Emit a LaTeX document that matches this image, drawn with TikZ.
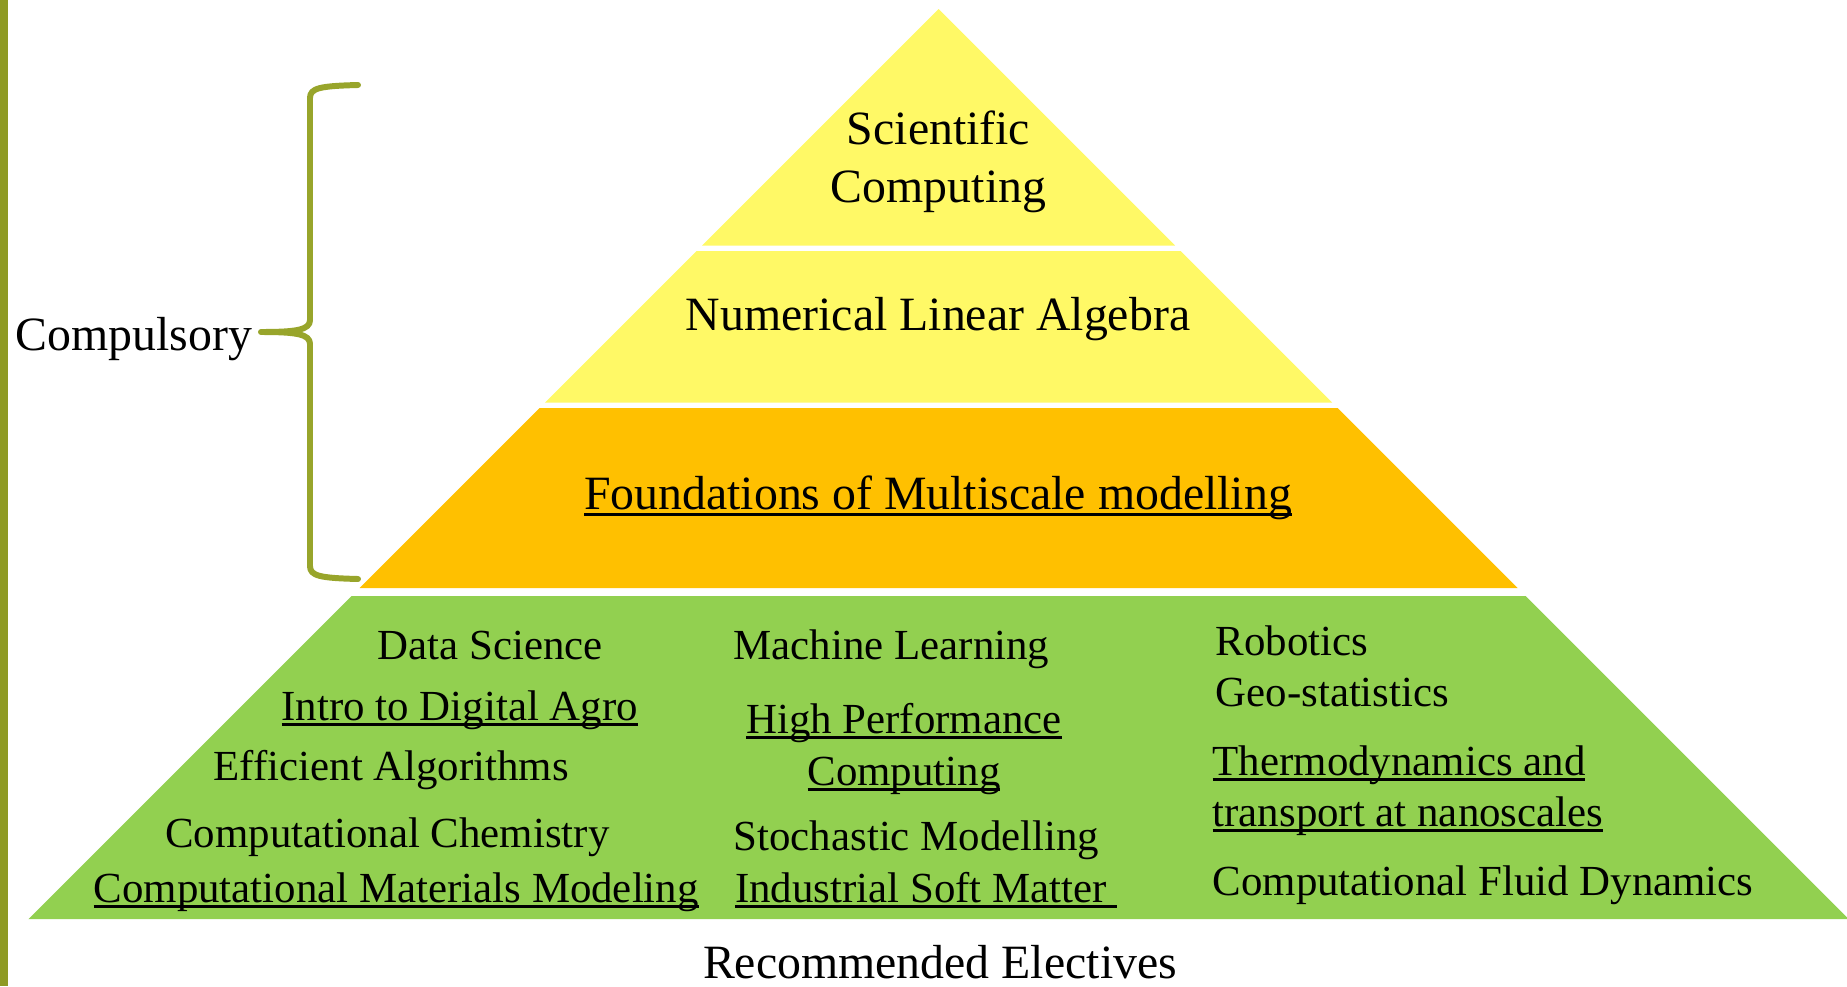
\documentclass[tikz,border=0pt]{standalone}
\usepackage{fontspec}
\setmainfont{Liberation Serif}
\usetikzlibrary{calc,positioning}

\definecolor{pyryellow}{HTML}{FFF966}
\definecolor{pyrorange}{HTML}{FFC000}
\definecolor{pyrgreen}{HTML}{92D050}
\definecolor{olivebar}{HTML}{8E9A24}
\definecolor{olivebrace}{HTML}{98A52B}

% underline that sits close to the baseline and cuts the descenders
\newcommand{\ulined}[1]{\setbox0=\hbox{#1}\rlap{\rule[-0.14em]{\wd0}{0.06em}}\box0}

\tikzset{
    yellow layer/.style = {
        fill = pyryellow,
        },
    orange layer/.style = {
        fill = pyrorange,
        },
    green layer/.style = {
        fill = pyrgreen,
        },
    brace line/.style = {
        draw = olivebrace,
        line width = 1.7pt,
        line cap = round,
        line join = round,
        },
    title/.style = {
        font = \fontsize{13.6}{16.5}\selectfont,
        inner sep = 0pt,
        anchor = base,
        },
    elective/.style = {
        font = \fontsize{12.2}{14.8}\selectfont,
        inner sep = 0pt,
        anchor = base west,
        },
}

\begin{document}
\begin{tikzpicture}
        \useasboundingbox (0,0) rectangle (18.47,9.86);
        \fill[olivebar] (0,0) rectangle (0.08,9.86);

        \coordinate (apex) at (9.385,9.77);
        % the four layers, all cut from one triangle
        \foreach \from/\to/\col in {0/2.365/yellow layer, 2.42/3.935/yellow layer, 3.99/5.79/orange layer, 5.87/9.1/green layer}
            \fill[\col] ($(apex)+(-\from,-\from)$) -- ($(apex)+(\from,-\from)$) -- ($(apex)+(\to,-\to)$) -- ($(apex)+(-\to,-\to)$) -- cycle;

        \node[title] (sci) at (9.385,8.42) {Scientific};
        \node[title] (comp) at ($(sci.base)+(0,-0.58)$) {Computing};
        \node[title] (nla) at (9.38,6.56) {Numerical Linear Algebra};
        \node[title] (fmm) at (9.38,4.77) {\ulined{Foundations of Multiscale modelling}};

        % compulsory brace
        \node[title, anchor=base west] (comp label) at (0.15,6.36) {Compulsory};
        \coordinate (brace top) at (3.58,9.01);
        \coordinate (brace tip) at (2.61,6.54);
        \coordinate (brace bot) at (3.58,4.07);
        \draw[brace line] (brace top) .. controls +(-0.38,-0.01) and +(0,0.1) .. (3.10,8.88)
            -- (3.10,6.66) .. controls +(0,-0.1) and +(0.35,0) .. (brace tip)
            .. controls +(0.35,0) and +(0,0.1) .. (3.10,6.42)
            -- (3.10,4.20) .. controls +(0,-0.1) and +(-0.38,0.01) .. (brace bot);

        % electives, left column
        \node[elective] (data) at (3.77,3.27) {Data Science};
        \node[elective] (agro) at (2.81,2.66) {\ulined{Intro to Digital Agro}};
        \node[elective] (algo) at (2.13,2.06) {Efficient Algorithms};
        \node[elective] (chem) at (1.645,1.39) {Computational Chemistry};
        \node[elective] (matmod) at (0.93,0.84) {\ulined{Computational Materials Modeling}};

        % middle column
        \node[elective] (ml) at (7.33,3.27) {Machine Learning};
        \node[elective, anchor=base] (hpc) at (9.04,2.53) {\ulined{High Performance}};
        \node[elective, anchor=base] (hpc2) at ($(hpc.base)+(0,-0.52)$) {\ulined{Computing}};
        \node[elective] (stoch) at (7.33,1.36) {Stochastic Modelling};
        \node[elective] (soft) at (7.345,0.84) {\ulined{Industrial Soft Matter\ }};

        % right column
        \node[elective] (robot) at (12.15,3.31) {Robotics};
        \node[elective] (geo) at ($(robot.base west)+(0,-0.51)$) {Geo-statistics};
        \node[elective] (thermo) at (12.12,2.11) {\ulined{Thermodynamics and}};
        \node[elective] (thermo2) at ($(thermo.base west)+(0,-0.51)$) {\ulined{transport at nanoscales}};
        \node[elective] (cfd) at (12.12,0.91) {Computational Fluid Dynamics};

        \node[title] (rec) at (9.40,0.08) {Recommended Electives};
\end{tikzpicture}
\end{document}
